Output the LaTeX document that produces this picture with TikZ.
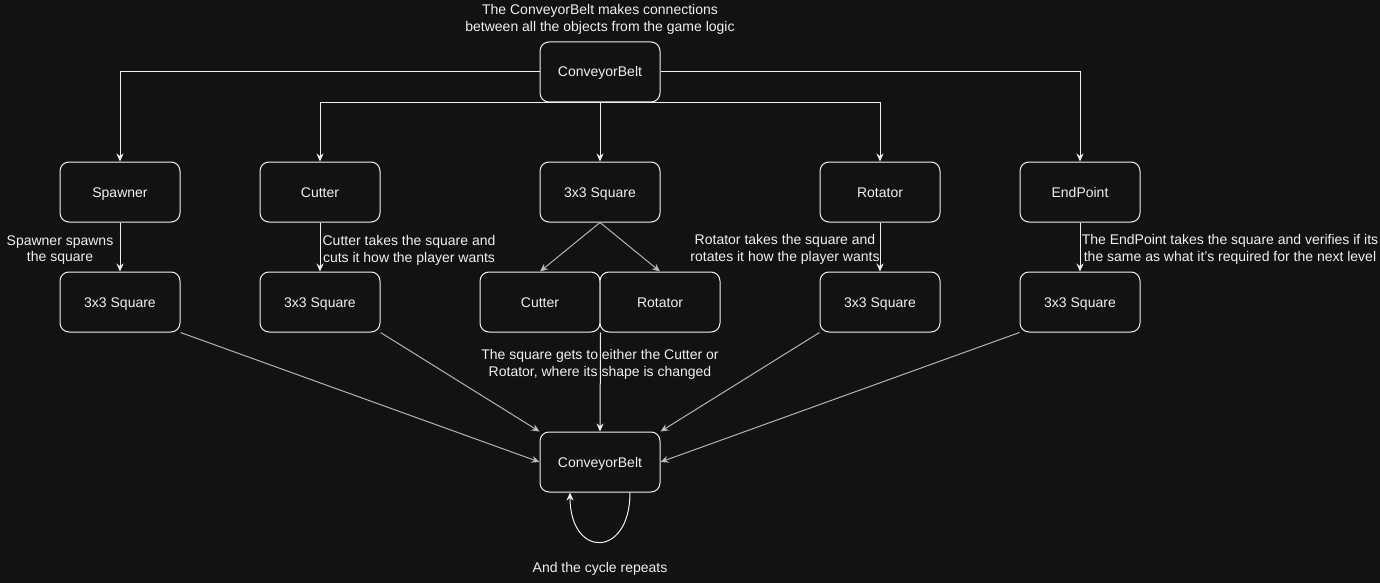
\documentclass[tikz,border=0pt]{standalone}
\usepackage{fontspec}
\setmainfont{Liberation Sans}
\usetikzlibrary{arrows.meta}
\definecolor{bg}{HTML}{121212}
\definecolor{fg}{HTML}{F0F0F0}
\definecolor{gline}{HTML}{B4B4B4}
\tikzset{
  box/.style={draw=fg, line width=1pt, fill=bg, rounded corners=9pt, minimum width=120pt, minimum height=60pt, inner sep=0pt, text=fg, text height=10pt, text depth=0pt, font=\fontsize{14}{16.8}\selectfont},
  lbl/.style={text=fg, align=center, inner sep=0pt, font=\fontsize{14}{16.8}\selectfont},
  arr/.style={draw=fg, line width=1pt, -{Stealth[length=8pt,width=7pt]}},
  garr/.style={draw=gline, line width=1pt, -{Stealth[length=8pt,width=7pt,fill=fg]}},
}
\begin{document}
\begin{tikzpicture}[x=1pt,y=-1pt]
\fill[bg] (0,0) rectangle (1380,583);
\useasboundingbox (0,0) rectangle (1380,583);

% nodes
\node[box] (cb1) at (600,72) {ConveyorBelt};
\node[box] (sp)  at (120,192) {Spawner};
\node[box] (cu1) at (320,192) {Cutter};
\node[box] (sq1) at (600,192) {3x3 Square};
\node[box] (ro1) at (880,192) {Rotator};
\node[box] (ep)  at (1080,192) {EndPoint};
\node[box] (sqa) at (120,302) {3x3 Square};
\node[box] (sqb) at (320,302) {3x3 Square};
\node[box] (cu2) at (540,302) {Cutter};
\node[box] (ro2) at (660,302) {Rotator};
\node[box] (sqc) at (880,302) {3x3 Square};
\node[box] (sqd) at (1080,302) {3x3 Square};
\node[box] (cb2) at (600,462) {ConveyorBelt};

% labels
\node[lbl] (t0) at (600,19.5) {The ConveyorBelt makes connections\\between all the objects from the game logic};
\node[lbl] (t1) at (60,250) {Spawner spawns\\the square};
\node[lbl] (t2) at (409,250) {Cutter takes the square and\\cuts it how the player wants};
\node[lbl] (t3) at (785,249.5) {Rotator takes the square and\\rotates it how the player wants};
\node[lbl] (t4) at (1230,249.5) {The EndPoint takes the square and verifies if its\\the same as what it's required for the next level};
\node[lbl] (t5) at (600,364.5) {The square gets to either the Cutter or\\Rotator, where its shape is changed};
\node[lbl] (t6) at (600,569) {And the cycle repeats};

% connectors from top ConveyorBelt
\draw[arr] (cb1.west) -| (sp.north);
\draw[arr] (cb1.east) -| (ep.north);
\draw[arr] (cb1.south) -| (cu1.north);
\draw[arr] (cb1.south) -| (ro1.north);
\draw[arr] (cb1.south) -- (sq1.north);

% row 1 to row 2
\draw[arr] (sp.south) -- (sqa.north);
\draw[arr] (cu1.south) -- (sqb.north);
\draw[arr] (ro1.south) -- (sqc.north);
\draw[arr] (ep.south) -- (sqd.north);
\draw[garr] (sq1.south) -- (cu2.north);
\draw[garr] (sq1.south) -- (ro2.north);

% row 2 to bottom ConveyorBelt
\draw[garr] (sqa.south east) -- (cb2.west);
\draw[garr] (sqb.south east) -- (cb2.north west);
\draw[garr] (sqc.south west) -- (cb2.north east);
\draw[garr] (sqd.south west) -- (cb2.east);
\draw[arr] (cu2.south east) -- (cb2.north);

% cycle
\draw[arr] ([xshift=30pt]cb2.south) .. controls ([xshift=30pt,yshift=-66pt]cb2.south) and ([xshift=-30pt,yshift=-66pt]cb2.south) .. ([xshift=-30pt]cb2.south);
\end{tikzpicture}
\end{document}
